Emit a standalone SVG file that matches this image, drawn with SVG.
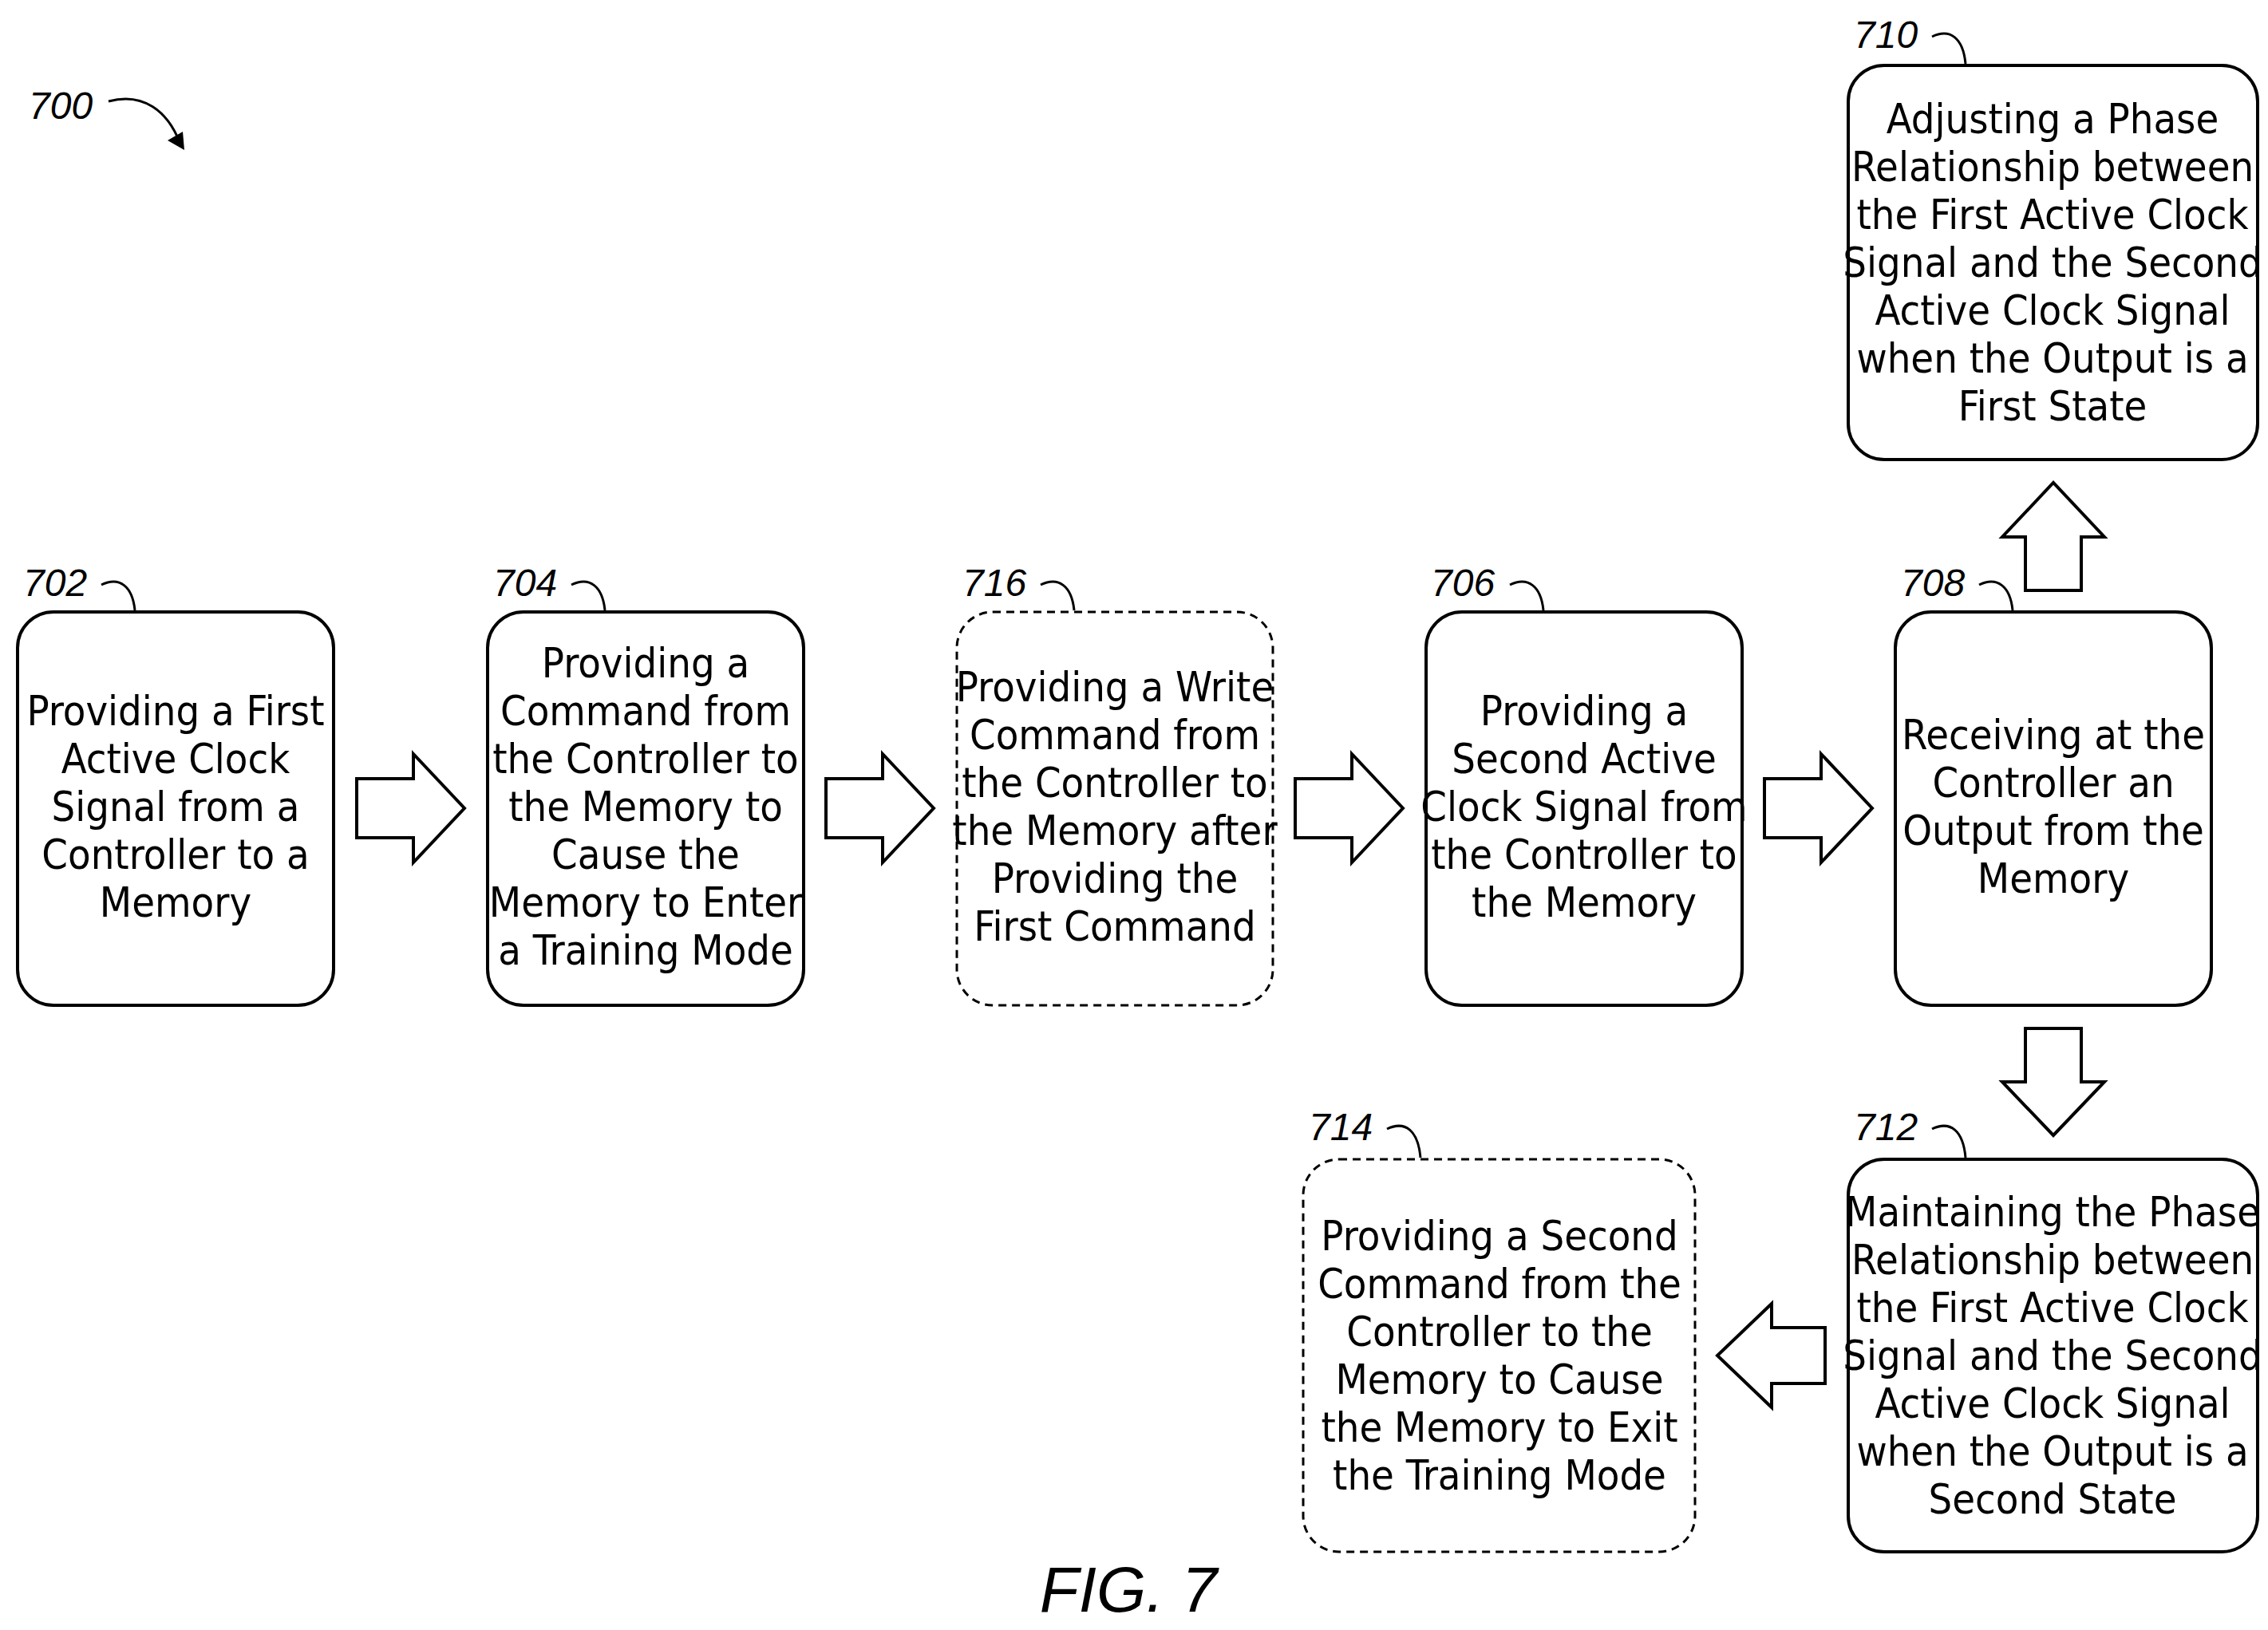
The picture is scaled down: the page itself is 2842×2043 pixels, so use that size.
<svg xmlns="http://www.w3.org/2000/svg" width="2842" height="2043" viewBox="0 0 2842 2043">
<style>
.b{fill:#fff;stroke:#000;stroke-width:4}
.d{stroke-dasharray:10 7;stroke-width:3}
.t{font-family:"Liberation Sans Narrow","DejaVu Sans Condensed","Liberation Sans",sans-serif;font-size:52px;text-anchor:middle;fill:#000}
.l{font-family:"Liberation Sans","DejaVu Sans",sans-serif;font-style:italic;font-size:48px;fill:#000}
.c{fill:none;stroke:#000;stroke-width:3}
.a{fill:#fff;stroke:#000;stroke-width:4;stroke-linejoin:miter}
</style>
<rect width="2842" height="2043" fill="#fff"/>
<g id="label700"><text class="l" x="36" y="149">700</text><path class="c" d="M136,127 C180,115 210,140 225,178"/><path d="M231,188 L210,176 L229,165 Z" fill="#000"/></g>
<g id="n702"><rect class="b" x="22" y="767" width="396" height="493" rx="45"/>
<text class="t" x="220" y="909">Providing a First</text><text class="t" x="220" y="969">Active Clock</text><text class="t" x="220" y="1029">Signal from a</text><text class="t" x="220" y="1089">Controller to a</text><text class="t" x="220" y="1149">Memory</text>
<text class="l" x="29" y="747">702</text><path class="c" d="M127,733 C150,722 166,735 169,765"/></g>
<g id="n704"><rect class="b" x="611" y="767" width="396" height="493" rx="45"/>
<text class="t" x="809" y="849">Providing a</text><text class="t" x="809" y="909">Command from</text><text class="t" x="809" y="969">the Controller to</text><text class="t" x="809" y="1029">the Memory to</text><text class="t" x="809" y="1089">Cause the</text><text class="t" x="809" y="1149">Memory to Enter</text><text class="t" x="809" y="1209">a Training Mode</text>
<text class="l" x="618" y="747">704</text><path class="c" d="M716,733 C739,722 755,735 758,765"/></g>
<g id="n716"><rect class="b d" x="1199" y="767" width="396" height="493" rx="45"/>
<text class="t" x="1397" y="879">Providing a Write</text><text class="t" x="1397" y="939">Command from</text><text class="t" x="1397" y="999">the Controller to</text><text class="t" x="1397" y="1059">the Memory after</text><text class="t" x="1397" y="1119">Providing the</text><text class="t" x="1397" y="1179">First Command</text>
<text class="l" x="1206" y="747">716</text><path class="c" d="M1304,733 C1327,722 1343,735 1346,765"/></g>
<g id="n706"><rect class="b" x="1787" y="767" width="396" height="493" rx="45"/>
<text class="t" x="1985" y="909">Providing a</text><text class="t" x="1985" y="969">Second Active</text><text class="t" x="1985" y="1029">Clock Signal from</text><text class="t" x="1985" y="1089">the Controller to</text><text class="t" x="1985" y="1149">the Memory</text>
<text class="l" x="1793" y="747">706</text><path class="c" d="M1892,733 C1915,722 1931,735 1934,765"/></g>
<g id="n708"><rect class="b" x="2375" y="767" width="396" height="493" rx="45"/>
<text class="t" x="2573" y="939">Receiving at the</text><text class="t" x="2573" y="999">Controller an</text><text class="t" x="2573" y="1059">Output from the</text><text class="t" x="2573" y="1119">Memory</text>
<text class="l" x="2382" y="747">708</text><path class="c" d="M2480,733 C2503,722 2519,735 2522,765"/></g>
<g id="n710"><rect class="b" x="2316" y="82" width="513" height="494" rx="45"/>
<text class="t" x="2572" y="167">Adjusting a Phase</text><text class="t" x="2572" y="227">Relationship between</text><text class="t" x="2572" y="287">the First Active Clock</text><text class="t" x="2572" y="347">Signal and the Second</text><text class="t" x="2572" y="407">Active Clock Signal</text><text class="t" x="2572" y="467">when the Output is a</text><text class="t" x="2572" y="527">First State</text>
<text class="l" x="2323" y="60">710</text><path class="c" d="M2421,46 C2444,35 2460,48 2463,80"/></g>
<g id="n712"><rect class="b" x="2316" y="1453" width="513" height="492" rx="45"/>
<text class="t" x="2572" y="1537">Maintaining the Phase</text><text class="t" x="2572" y="1597">Relationship between</text><text class="t" x="2572" y="1657">the First Active Clock</text><text class="t" x="2572" y="1717">Signal and the Second</text><text class="t" x="2572" y="1777">Active Clock Signal</text><text class="t" x="2572" y="1837">when the Output is a</text><text class="t" x="2572" y="1897">Second State</text>
<text class="l" x="2323" y="1429">712</text><path class="c" d="M2421,1415 C2444,1404 2460,1417 2463,1451"/></g>
<g id="n714"><rect class="b d" x="1633" y="1453" width="491" height="492" rx="45"/>
<text class="t" x="1879" y="1567">Providing a Second</text><text class="t" x="1879" y="1627">Command from the</text><text class="t" x="1879" y="1687">Controller to the</text><text class="t" x="1879" y="1747">Memory to Cause</text><text class="t" x="1879" y="1807">the Memory to Exit</text><text class="t" x="1879" y="1867">the Training Mode</text>
<text class="l" x="1640" y="1429">714</text><path class="c" d="M1738,1415 C1761,1404 1777,1417 1780,1451"/></g>
<g id="connectors">
<path class="a" d="M447,976 H518 V945 L582,1013 L518,1081 V1050 H447 Z"/>
<path class="a" d="M1035,976 H1106 V945 L1170,1013 L1106,1081 V1050 H1035 Z"/>
<path class="a" d="M1623,976 H1694 V945 L1758,1013 L1694,1081 V1050 H1623 Z"/>
<path class="a" d="M2211,976 H2282 V945 L2346,1013 L2282,1081 V1050 H2211 Z"/>
<path class="a" d="M2538,740 V673 H2509 L2573,605 L2637,673 H2608 V740 Z"/>
<path class="a" d="M2538,1289 V1356 H2509 L2573,1423 L2637,1356 H2608 V1289 Z"/>
<path class="a" d="M2287,1664 H2220 V1634 L2152,1699 L2220,1764 V1734 H2287 Z"/>
</g>
<text x="1414" y="2020" font-family="Liberation Sans,sans-serif" font-style="italic" font-size="80" text-anchor="middle">FIG.  7</text>
</svg>
